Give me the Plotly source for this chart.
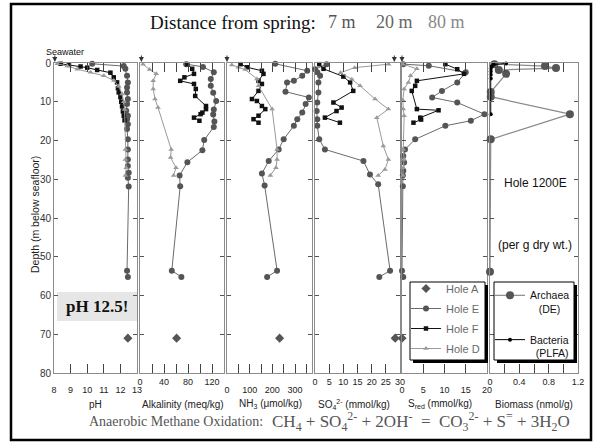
import plotly.graph_objects as go

# ---------------- data ----------------
# pH
depth_E_ph = [0.2, 0.8, 1.5, 3.3, 5.0, 6.3, 7.6, 9.3, 10.6, 12.3, 13.6, 14.5, 15.8, 17.0, 19.7, 22.3, 24.9, 26.6, 28.3, 29.6, 31.9, 53.6, 55.2]
ph_E = [10.3, 12.2, 12.3, 12.4, 12.45, 12.4, 12.4, 12.45, 12.4, 12.35, 12.45, 12.4, 12.45, 12.4, 12.45, 12.45, 12.45, 12.45, 12.5, 12.45, 12.5, 12.4, 12.45]
depth_F_ph = [0.2, 0.5, 0.9, 1.2, 1.8, 2.5, 3.7, 5.0, 6.5, 7.6, 8.8, 10.0, 11.2, 12.5, 13.6, 14.8]
ph_F = [8.4, 8.9, 9.6, 10.0, 10.6, 11.4, 11.6, 11.8, 11.85, 11.9, 12.0, 12.05, 12.1, 12.15, 12.2, 12.25]
depth_D_ph = [0.2, 0.8, 1.6, 2.4, 3.3, 4.5, 6.0, 8.0, 10.0, 12.0, 22.3, 24.9, 27.0, 29.0]
ph_D = [8.2, 8.8, 9.4, 10.2, 11.0, 11.6, 11.9, 12.1, 12.2, 12.25, 12.3, 12.3, 12.35, 12.3]

# Alkalinity (meq/kg)
depth_E_alk = [0.3, 1.0, 2.4, 4.1, 5.9, 7.7, 9.8, 12.0, 13.3, 15.1, 16.5, 19.9, 22.5, 25.6, 29.0, 31.8, 53.6, 55.2]
alk_E = [77, 105, 123, 118, 118, 122, 127, 123, 122, 124, 123, 107, 104, 79, 66, 67, 53, 69]
depth_F_alk = [0.3, 1.5, 2.8, 3.7, 4.6, 5.4, 6.7, 8.5, 11.1, 11.9, 12.8, 13.2, 14.1, 14.9]
alk_F = [79, 87, 90, 74, 67, 90, 93, 92, 110, 110, 104, 101, 90, 99]
depth_D_alk = [0.3, 1.7, 2.8, 4.6, 6.7, 9.3, 11.5, 22.3, 24.4, 27.0, 29.0]
alk_D = [5, 16, 27, 22, 22, 25, 30, 52, 51, 60, 56]

# NH3 (umol/kg)
depth_E_nh3 = [0.2, 2.0, 3.3, 4.6, 5.0, 7.4, 8.9, 10.6, 12.8, 14.5, 16.2, 19.7, 22.3, 25.3, 28.5, 31.6, 53.6, 55.2]
nh3_E = [213, 354, 332, 295, 265, 258, 361, 347, 332, 310, 295, 250, 228, 184, 154, 166, 221, 177]
depth_F_nh3 = [0.3, 1.1, 2.0, 2.8, 4.6, 5.4, 7.2, 9.3, 9.8, 11.1, 11.9, 13.6, 14.5, 15.4]
nh3_F = [60, 88, 154, 161, 139, 154, 139, 110, 132, 154, 169, 139, 117, 139]
depth_D_nh3 = [0.5, 1.1, 1.7, 4.1, 5.9, 11.9, 22.3, 24.9, 27.0, 29.0]
nh3_D = [21, 50, 80, 132, 139, 199, 221, 221, 216, 191]

# SO4 2- (mmol/kg)
depth_E_so4 = [0.3, 1.6, 2.4, 3.3, 5.0, 7.6, 10.2, 12.4, 14.5, 16.2, 19.7, 22.3, 25.3, 28.8, 31.3, 53.6, 55.2]
so4_E = [4.1, 0.0, 0.8, 1.8, 1.2, 1.2, 0.8, 0.6, 0.8, 0.8, 1.5, 3.5, 17.1, 19.4, 22.3, 26.5, 22.7]
depth_F_so4 = [0.3, 1.5, 3.5, 5.0, 7.2, 10.2, 11.5, 12.4, 14.1, 15.4]
so4_F = [1.5, 3.0, 10.0, 12.4, 13.5, 6.5, 9.4, 7.6, 3.5, 8.8]
depth_D_so4 = [0.3, 1.2, 2.5, 4.2, 5.9, 9.3, 11.9, 14.1, 21.4, 24.9, 27.5, 29.0]
so4_D = [26.0, 14.0, 9.0, 13.0, 15.9, 21.2, 25.9, 21.8, 24.1, 25.9, 24.7, 22.3]

# S_red (mmol/kg)
depth_E_sred = [0.3, 0.7, 2.4, 5.0, 7.2, 8.9, 10.2, 13.2, 14.9, 16.2, 19.7, 22.3, 24.0, 25.7, 27.8, 29.0, 31.8, 53.6, 55.2]
sred_E = [0.3, 6.3, 15.0, 13.0, 9.4, 7.1, 13.0, 19.4, 16.2, 10.2, 3.1, 0.7, 0.3, 0.5, 0.3, 0.2, 0.2, 0.0, 0.3]
depth_F_sred = [0.3, 1.6, 2.8, 4.6, 5.9, 7.2, 11.9, 12.2, 14.1, 14.6, 15.4]
sred_F = [10.2, 13.0, 14.6, 3.5, 3.1, 2.3, 3.5, 8.6, 4.3, 4.5, 2.7]
depth_D_sred = [0.3, 1.5, 3.3, 5.0, 6.7, 9.6, 11.9, 13.6, 22.3, 24.9, 27.0, 29.0]
sred_D = [0.2, 3.5, 2.0, 1.5, 0.5, 0.2, 0.3, 0.5, 0.3, 0.5, 0.3, 0.2]

# Hole A (single deep sample)
depth_A = [71.0]
ph_A = [12.45]
alk_A = [61]
nh3_A = [232]
so4_A = [28.3]
sred_A = [0.0]

# Biomass (nmol/g), Hole 1200E
depth_arch = [0.3, 0.8, 1.3, 1.8, 2.8, 7.5, 8.7, 13.2, 19.7, 53.9]
biomass_arch = [0.06, 0.75, 0.90, 0.12, 0.22, 0.01, 0.01, 1.09, 0.01, 0.0]
depth_bact = [0.1, 0.4, 0.9, 1.5, 2.2, 3.0, 4.0, 13.2]
biomass_bact = [0.22, 0.05, 0.02, 0.01, 0.01, 0.01, 0.01, 0.01]

# Seawater reference values (pH, Alk, NH3, SO4, Sred)
seawater = [8.05, 2.3, 0.0, 28.0, 0.0]

# axis ranges / ticks
x_ranges = [[8, 13], [0, 140], [0, 375], [0, 30], [0, 20], [0, 1.2]]
x_tickvals = [[8, 9, 10, 11, 12, 13], [0, 40, 80, 120], [0, 100, 200, 300],
              [0, 5, 10, 15, 20, 25, 30], [0, 5, 10, 15, 20], [0, 0.4, 0.8, 1.2]]
x_ticktext = [["8", "9", "10", "11", "12", "13"], ["0", "40", "80", "120"], ["0", "100", "200", "300"],
              ["0", "5", "10", "15", "20", "25", "30"], ["0", "5", "10", "15", "20"], ["0", "0.4", "0.8", "1.2"]]
x_minor = [None, 20, 50, None, None, 0.2]
x_titles = ["pH", "Alkalinity (meq/kg)", "NH<sub>3</sub> (\u03bcmol/kg)",
            "SO<sub>4</sub><sup>2-</sup> (mmol/kg)", "S<sub>red</sub> (mmol/kg)", "Biomass (nmol/g)"]
depth_ticks = [0, 10, 20, 30, 40, 50, 60, 70, 80]

# ---------------- layout geometry ----------------
W, H = 600, 444
panel_px = [(54, 137), (140, 224), (227, 312), (315, 400), (402, 487), (490, 578)]
y_top_px, y_bot_px = 63, 373
title_x_px = [95, 183, 270, 354, 440, 534]
label_standoff = [8, 0, 8, 0, 8, 0]

def px(x):
    return x / W

def py(y):
    return 1 - y / H

fig = go.Figure()

STY = {
    'A': dict(mode='markers', marker=dict(symbol='diamond', size=7, color='#555555')),
    'E': dict(mode='lines+markers', marker=dict(symbol='circle', size=6, color='#555555'),
              line=dict(color='#6a6a6a', width=1)),
    'F': dict(mode='lines+markers', marker=dict(symbol='square', size=4.5, color='#111111'),
              line=dict(color='#111111', width=1)),
    'D': dict(mode='lines+markers', marker=dict(symbol='triangle-up', size=5, color='#9a9a9a'),
              line=dict(color='#9a9a9a', width=1)),
}

hole_data = {
    'A': [(ph_A, depth_A), (alk_A, depth_A), (nh3_A, depth_A), (so4_A, depth_A), (sred_A, depth_A)],
    'E': [(ph_E, depth_E_ph), (alk_E, depth_E_alk), (nh3_E, depth_E_nh3), (so4_E, depth_E_so4), (sred_E, depth_E_sred)],
    'F': [(ph_F, depth_F_ph), (alk_F, depth_F_alk), (nh3_F, depth_F_nh3), (so4_F, depth_F_so4), (sred_F, depth_F_sred)],
    'D': [(ph_D, depth_D_ph), (alk_D, depth_D_alk), (nh3_D, depth_D_nh3), (so4_D, depth_D_so4), (sred_D, depth_D_sred)],
}

def axname(i, letter):
    return letter if i == 0 else f"{letter}{i+1}"

for hole in ['A', 'E', 'F', 'D']:
    for i, (xs, ys) in enumerate(hole_data[hole]):
        fig.add_trace(go.Scatter(x=xs, y=ys, name=f"Hole {hole}", legendgroup=hole,
                                 showlegend=(i == 0), legend='legend',
                                 xaxis=axname(i, 'x'), yaxis=axname(i, 'y'),
                                 cliponaxis=False, **STY[hole]))

fig.add_trace(go.Scatter(x=biomass_arch, y=depth_arch, name="Archaea<br>   (DE)", mode='lines+markers',
                         marker=dict(symbol='circle', size=8, color='#555555'),
                         line=dict(color='#8a8a8a', width=1.2), legend='legend2', legendgroup='arch',
                         xaxis='x6', yaxis='y6', cliponaxis=False))
fig.add_trace(go.Scatter(x=biomass_bact, y=depth_bact, name="Bacteria<br>  (PLFA)", mode='lines+markers',
                         marker=dict(symbol='circle', size=4, color='#000000'),
                         line=dict(color='#000000', width=1), legend='legend2', legendgroup='bact',
                         xaxis='x6', yaxis='y6', cliponaxis=False))

layout = dict(template='none', width=W, height=H, margin=dict(l=0, r=0, t=0, b=0, pad=0, autoexpand=False),
              paper_bgcolor='white', plot_bgcolor='white', hovermode=False,
              font=dict(family="Arial, Liberation Sans, sans-serif", size=9, color='#222222'))

for i in range(6):
    x0, x1 = panel_px[i]
    xa = dict(domain=[px(x0), px(x1)], range=x_ranges[i], anchor=axname(i, 'y'),
              showline=True, linecolor='#8c8c8c', linewidth=1, mirror='ticks',
              ticks='inside', ticklen=9, tickcolor='#444444', tickwidth=1,
              tickvals=x_tickvals[i], ticktext=x_ticktext[i],
              tickfont=dict(size=9, color='#222222'), ticklabelstandoff=label_standoff[i],
              showgrid=False, zeroline=False, fixedrange=True, automargin=False)
    if x_minor[i] is not None:
        xa['minor'] = dict(dtick=x_minor[i], ticks='inside', ticklen=9, tickcolor='#444444', showgrid=False)
    ya = dict(domain=[py(y_bot_px), py(y_top_px)], range=[80, 0], anchor=axname(i, 'x'),
              showline=True, linecolor='#8c8c8c', linewidth=1, mirror='ticks',
              ticks='inside', ticklen=4, tickcolor='#555555', tickvals=depth_ticks,
              showticklabels=(i == 0), tickfont=dict(size=10, color='#333333'),
              showgrid=False, zeroline=False, fixedrange=True, automargin=False)
    layout['xaxis' if i == 0 else f'xaxis{i+1}'] = xa
    layout['yaxis' if i == 0 else f'yaxis{i+1}'] = ya

# legends: transparent, drawn on top of hand-made boxes with drop shadows
layout['legend'] = dict(x=px(406), y=py(274), xanchor='left', yanchor='top',
                        bgcolor='rgba(0,0,0,0)', borderwidth=0,
                        font=dict(size=11, color='#6a6a6a'), itemwidth=30, tracegroupgap=1)
layout['legend2'] = dict(x=px(490), y=py(282), xanchor='left', yanchor='top',
                         bgcolor='rgba(0,0,0,0)', borderwidth=0,
                         font=dict(size=10.5, color='#111111'), itemwidth=30, valign='top',
                         tracegroupgap=14)

def note(x, y, text, size, color, family=None, **kw):
    f = dict(size=size, color=color)
    if family:
        f['family'] = family
    d = dict(x=px(x), y=py(y), xref='paper', yref='paper', text=text, showarrow=False,
             xanchor='center', yanchor='middle', font=f)
    d.update(kw)
    return d

serif = "Times New Roman, Liberation Serif, serif"
annotations = []
for i in range(6):
    annotations.append(note(title_x_px[i], 404, x_titles[i], 10, '#222222'))
annotations.append(note(35, 215, "Depth (m below seafloor)", 10.5, '#222222', textangle=-90))
annotations.append(note(233, 22, "Distance from spring:", 19, '#111111', serif))
for lab, cx, col in [("7 m", 342, '#555555'), ("20 m", 394, '#666666'), ("80 m", 446, '#888888')]:
    annotations.append(note(cx, 22, lab, 18, col, serif))
annotations.append(note(65, 52, "Seawater", 9, '#111111'))
for i, v in enumerate(seawater):
    annotations.append(dict(x=v, y=0, xref=axname(i, 'x'), yref=axname(i, 'y'), text="",
                            showarrow=True, ax=0, ay=-9, arrowhead=2, arrowsize=1,
                            arrowwidth=1, arrowcolor='#333333', standoff=1))
annotations.append(note(535, 183, "Hole 1200E", 12, '#111111'))
annotations.append(note(535, 245, "(per g dry wt.)", 12, '#111111'))
annotations.append(note(97, 306, "<b>pH 12.5!</b>", 17, '#111111', serif))
annotations.append(note(176, 421, "Anaerobic Methane Oxidation:", 14, '#555555', serif))
annotations.append(note(270, 421,
                        "CH<sub>4</sub> + SO<sub>4</sub><sup>2-</sup> + 2OH<sup>-</sup>  =  CO<sub>3</sub><sup>2-</sup> + S<sup>=</sup> + 3H<sub>2</sub>O",
                        17, '#555555', serif, xanchor='left'))
layout['annotations'] = annotations

def box_with_shadow(x0, y0, x1, y1, off=3):
    return [
        dict(type='rect', xref='paper', yref='paper', x0=px(x0 + off), x1=px(x1 + off),
             y0=py(y1 + off), y1=py(y0 + off), fillcolor='black', line=dict(width=0), layer='above'),
        dict(type='rect', xref='paper', yref='paper', x0=px(x0), x1=px(x1), y0=py(y1), y1=py(y0),
             fillcolor='white', line=dict(color='black', width=1), layer='above'),
    ]

shapes = [
    dict(type='rect', xref='paper', yref='paper', x0=px(57), x1=px(137), y0=py(321), y1=py(292),
         fillcolor='#e6e6e6', line=dict(width=0), layer='below'),
]
shapes += box_with_shadow(410, 282, 485, 360)
shapes += box_with_shadow(494, 282, 574, 360)
shapes.append(dict(type='rect', xref='paper', yref='paper', x0=px(11), x1=px(591), y0=py(440), y1=py(4),
                   fillcolor='rgba(0,0,0,0)', line=dict(color='black', width=2.5), layer='above'))
layout['shapes'] = shapes

fig.update_layout(**layout)
fig.write_html("out.html", config={'displayModeBar': False},
               post_script="document.body.style.margin='0';")
